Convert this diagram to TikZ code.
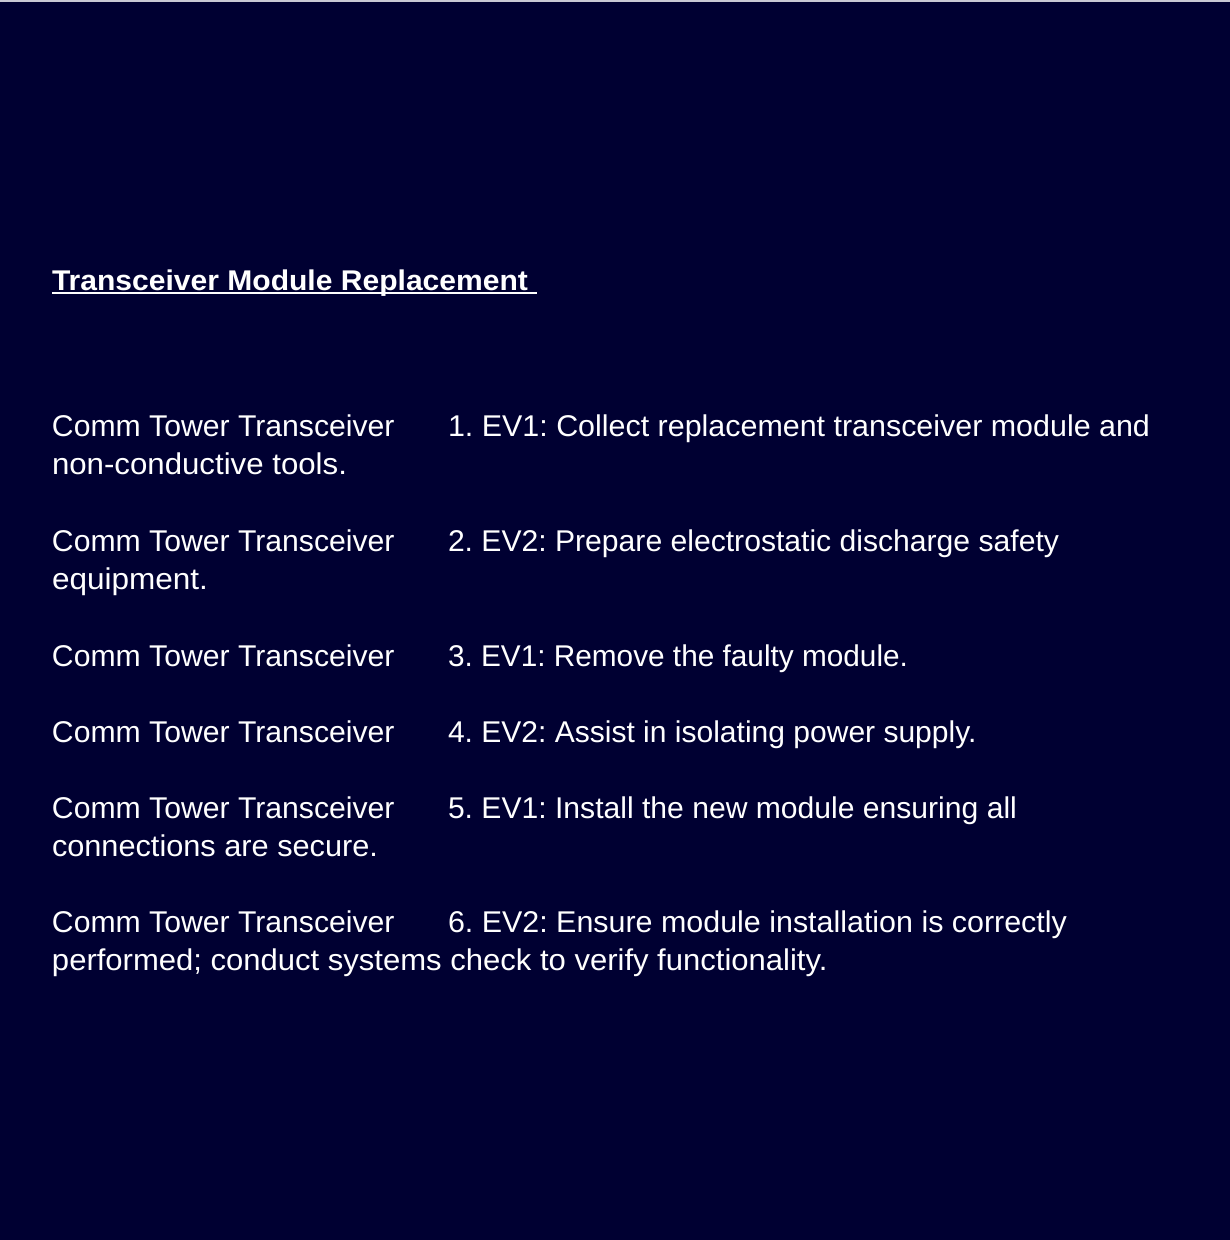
\documentclass[tikz,border=0pt]{standalone}
\usepackage{fontspec}
\usepackage{graphicx}
\setmainfont{Liberation Sans}
\definecolor{bgnavy}{RGB}{0,0,50}
\definecolor{topline}{RGB}{200,200,212}
\newsavebox\fitbox
\newcommand\fitw[2]{\sbox\fitbox{#2}\pgfmathsetmacro\fitf{#1/\the\wd\fitbox}\scalebox{\fitf}[1]{\usebox\fitbox}}
\begin{document}
\begin{tikzpicture}[x=1pt,y=-1pt,
  txt/.style={anchor=base west,inner sep=0pt,outer sep=0pt,text=white,font=\fontsize{30}{36}\selectfont\frenchspacing},
  ttl/.style={anchor=base west,inner sep=0pt,outer sep=0pt,text=white,font=\fontsize{28.5}{36}\selectfont\bfseries\frenchspacing}]
\fill[bgnavy] (0,0) rectangle (1230,1240);
\useasboundingbox (0,0) rectangle (1230,1240);
\draw[topline,line width=1.5pt] (0,0.75) -- (1230,0.75);
\node[ttl] (title) at (52,290.7) {\fitw{476}{Transceiver Module Replacement}};
\coordinate (ulend) at (537,293.2);
\draw[white,line width=1.6pt] (title.base west |- ulend) -- (ulend);
% group 1
\node[txt] (l1) at (52,436.5) {\fitw{342.5}{Comm Tower Transceiver}};
\node[txt] (s1) at (448,436.5) {\fitw{702}{1. EV1: Collect replacement transceiver module and}};
\node[txt] (c1) at (52,474.5) {\fitw{295}{non-conductive tools.}};
% group 2
\node[txt] (l2) at (52,551.5) {\fitw{342.5}{Comm Tower Transceiver}};
\node[txt] (s2) at (448,551.5) {\fitw{611}{2. EV2: Prepare electrostatic discharge safety}};
\node[txt] (c2) at (52,589.5) {\fitw{156}{equipment.}};
% group 3
\node[txt] (l3) at (52,666.5) {\fitw{342.5}{Comm Tower Transceiver}};
\node[txt] (s3) at (448,666.5) {\fitw{460}{3. EV1: Remove the faulty module.}};
% group 4
\node[txt] (l4) at (52,742.5) {\fitw{342.5}{Comm Tower Transceiver}};
\node[txt] (s4) at (448,742.5) {\fitw{528.5}{4. EV2: Assist in isolating power supply.}};
% group 5
\node[txt] (l5) at (52,818.5) {\fitw{342.5}{Comm Tower Transceiver}};
\node[txt] (s5) at (448,818.5) {\fitw{569}{5. EV1: Install the new module ensuring all}};
\node[txt] (c5) at (52,856.5) {\fitw{326}{connections are secure.}};
% group 6
\node[txt] (l6) at (52,932.5) {\fitw{342.5}{Comm Tower Transceiver}};
\node[txt] (s6) at (448,932.5) {\fitw{619}{6. EV2: Ensure module installation is correctly}};
\node[txt] (c6) at (52,970.5) {\fitw{775.5}{performed; conduct systems check to verify functionality.}};
\end{tikzpicture}
\end{document}
